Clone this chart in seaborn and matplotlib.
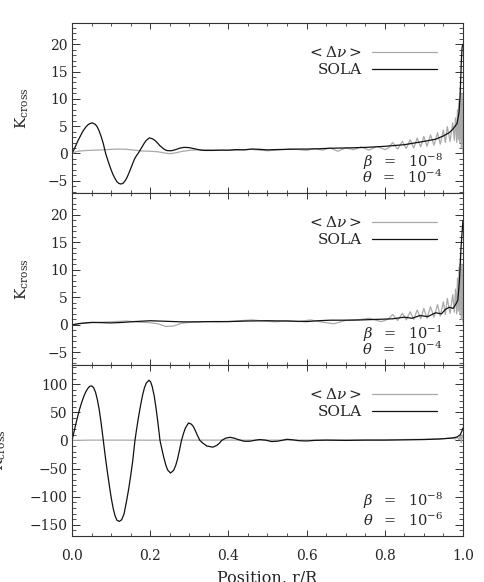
"""
Cross-talk kernels K_cross vs r/R for three (beta, theta) regularisation pairs.
"""
import matplotlib

matplotlib.use("Agg")
import matplotlib.pyplot as plt
import seaborn as sns
from matplotlib.ticker import MultipleLocator

# --- data -------------------------------------------------------------------
# panel 1: beta = 1e-8, theta = 1e-4
p1_sola_x = [0.0, 0.005, 0.01, 0.015, 0.02, 0.025, 0.03, 0.035, 0.04, 0.045,
             0.052, 0.06, 0.065, 0.07, 0.075,
             0.08, 0.086, 0.09, 0.095, 0.10, 0.105, 0.11, 0.115, 0.12, 0.125,
             0.13, 0.135, 0.14, 0.145, 0.15, 0.155, 0.16, 0.165, 0.17, 0.175,
             0.18, 0.185, 0.19, 0.198, 0.205, 0.21, 0.215, 0.22, 0.225, 0.23,
             0.235, 0.24, 0.245, 0.255, 0.265, 0.275, 0.285, 0.293, 0.30, 0.31,
             0.32, 0.33, 0.34, 0.36, 0.38, 0.40, 0.42, 0.44, 0.46, 0.48,
             0.50, 0.52, 0.55, 0.58, 0.60, 0.63, 0.66, 0.70, 0.75, 0.80,
             0.85, 0.90, 0.93, 0.95, 0.965, 0.975, 0.985, 0.99, 0.993, 0.996,
             0.998, 1.0]
p1_sola_y = [0.0, 0.7, 1.5, 2.3, 3.0, 3.7, 4.3, 4.8, 5.2, 5.45,
             5.6, 5.3, 4.8, 4.0, 3.0,
             1.8, 0.0, -0.9, -2.0, -3.0, -3.9, -4.6, -5.2, -5.5, -5.6,
             -5.5, -5.1, -4.5, -3.7, -2.8, -1.9, -1.0, -0.4, 0.1, 0.7,
             1.3, 1.9, 2.4, 2.85, 2.7, 2.5, 2.2, 1.8, 1.4, 1.1,
             0.8, 0.6, 0.5, 0.5, 0.7, 0.95, 1.1, 1.1, 1.05, 0.9,
             0.75, 0.6, 0.55, 0.55, 0.6, 0.6, 0.7, 0.65, 0.8, 0.75,
             0.65, 0.7, 0.75, 0.8, 0.8, 0.85, 0.95, 1.0, 1.1, 1.3,
             1.6, 2.2, 2.6, 3.2, 3.8, 4.5, 5.5, 7.5, 11.0, 17.0,
             19.5, 20.0]
p1_dnu_x = [0.0, 0.01, 0.02, 0.04, 0.06, 0.08, 0.10, 0.12, 0.14, 0.16,
            0.18, 0.20, 0.22, 0.235, 0.25, 0.265, 0.28, 0.30, 0.32, 0.35,
            0.38, 0.40, 0.42, 0.44, 0.46, 0.48, 0.50, 0.52, 0.54, 0.56,
            0.58, 0.60, 0.62, 0.64, 0.66, 0.68, 0.70, 0.72, 0.74, 0.76,
            0.78, 0.80, 0.81, 0.82, 0.833, 0.845, 0.855, 0.865, 0.874, 0.883,
            0.892, 0.900, 0.908, 0.917, 0.926, 0.935, 0.942, 0.950, 0.955, 0.960,
            0.967, 0.974, 0.978, 0.981, 0.984, 0.986, 0.988, 0.990, 0.992, 0.994,
            0.996, 0.998, 1.0]
p1_dnu_y = [0.0, 0.3, 0.45, 0.55, 0.6, 0.65, 0.75, 0.8, 0.75, 0.6,
            0.45, 0.4, 0.3, 0.1, -0.05, 0.1, 0.35, 0.55, 0.65, 0.65,
            0.6, 0.55, 0.6, 0.7, 0.75, 0.6, 0.5, 0.6, 0.7, 0.8,
            0.7, 0.55, 0.9, 0.6, 1.0, 0.4, 1.0, 0.7, 1.2, 0.6,
            1.3, 0.7, 1.0, 2.0, 0.8, 2.2, 0.9, 2.5, 1.0, 2.8,
            1.2, 3.1, 1.3, 3.4, 1.5, 3.8, 1.7, 4.3, 2.0, 4.9,
            2.2, 5.6, 2.4, 6.5, 2.0, 8.0, 2.5, 10.0, 2.0, 12.0,
            1.0, 11.0, 0.0]

# panel 2: beta = 1e-1, theta = 1e-4
p2_sola_x = [0.0, 0.02, 0.05, 0.08, 0.10, 0.13, 0.16, 0.20, 0.24, 0.28,
             0.32, 0.36, 0.40, 0.45, 0.50, 0.55, 0.60, 0.63, 0.66, 0.70,
             0.74, 0.78, 0.82, 0.85, 0.87, 0.89, 0.91, 0.93, 0.945, 0.955,
             0.965, 0.975, 0.982, 0.987, 0.991, 0.995, 0.998, 1.0]
p2_sola_y = [0.0, 0.25, 0.45, 0.4, 0.35, 0.45, 0.6, 0.75, 0.65, 0.55,
             0.55, 0.6, 0.6, 0.7, 0.75, 0.7, 0.6, 0.75, 0.85, 0.85,
             0.9, 1.0, 1.1, 1.4, 1.2, 1.7, 1.5, 2.2, 2.0, 2.8,
             3.2, 3.0, 3.8, 4.5, 8.0, 14.0, 17.0, 19.0]
p2_dnu_x = [0.0, 0.02, 0.05, 0.08, 0.11, 0.14, 0.17, 0.20, 0.22, 0.24,
            0.26, 0.28, 0.31, 0.34, 0.37, 0.40, 0.43, 0.46, 0.49, 0.52,
            0.55, 0.58, 0.61, 0.64, 0.67, 0.70, 0.73, 0.76, 0.79, 0.80,
            0.81, 0.82, 0.833, 0.845, 0.855, 0.865, 0.874, 0.883, 0.892, 0.900,
            0.908, 0.917, 0.926, 0.935, 0.942, 0.950, 0.955, 0.960, 0.967, 0.974,
            0.978, 0.981, 0.984, 0.986, 0.988, 0.990, 0.992, 0.994, 0.996, 0.998,
            1.0]
p2_dnu_y = [0.0, 0.25, 0.4, 0.5, 0.6, 0.7, 0.5, 0.4, 0.2, -0.3,
            -0.2, 0.3, 0.5, 0.6, 0.55, 0.6, 0.75, 0.9, 0.7, 0.55,
            0.75, 0.6, 0.9, 0.5, 0.2, 0.8, 0.9, 1.2, 0.6, 0.8,
            1.1, 1.9, 0.8, 2.1, 0.9, 2.4, 1.0, 2.7, 1.1, 3.0,
            1.2, 3.3, 1.4, 3.7, 1.6, 4.2, 1.9, 4.8, 2.1, 5.5,
            2.3, 6.5, 2.0, 8.5, 2.5, 10.5, 2.0, 13.0, 1.0, 11.0,
            0.5]

# panel 3: beta = 1e-8, theta = 1e-6
p3_sola_x = [0.0, 0.005, 0.01, 0.015, 0.02, 0.025, 0.03, 0.035, 0.04, 0.045,
             0.05, 0.055, 0.06, 0.065, 0.07, 0.075, 0.08,
             0.085, 0.09, 0.095, 0.10, 0.105, 0.11, 0.115, 0.121, 0.127, 0.133,
             0.14, 0.145, 0.15, 0.155, 0.161,
             0.165, 0.17, 0.175, 0.18, 0.185, 0.19, 0.197, 0.201, 0.205, 0.21,
             0.215, 0.22, 0.225, 0.23,
             0.235, 0.24, 0.245, 0.252, 0.26, 0.265, 0.27, 0.275, 0.28, 0.285,
             0.29, 0.298, 0.305, 0.31, 0.315, 0.32, 0.327, 0.335, 0.345, 0.36,
             0.37, 0.377, 0.383, 0.393, 0.404, 0.415, 0.425, 0.44, 0.455, 0.47,
             0.48, 0.495, 0.51, 0.525, 0.54, 0.55, 0.565, 0.58, 0.60, 0.62,
             0.65, 0.70, 0.75, 0.80, 0.85, 0.90, 0.94, 0.97, 0.985, 0.993,
             0.997, 1.0]
p3_sola_y = [0.0, 15.0, 30.0, 44.0, 57.0, 68.0, 78.0, 86.0, 92.0, 96.0,
             97.0, 94.0, 86.0, 72.0, 53.0, 28.0, 0.0,
             -28.0, -54.0, -78.0, -101.0, -120.0, -134.0, -142.0, -144.0, -141.0, -131.0,
             -106.0, -86.0, -63.0, -38.0, 0.0,
             19.0, 41.0, 61.0, 79.0, 93.0, 102.0, 107.0, 104.0, 96.0, 80.0,
             57.0, 30.0, 0.0, -16.0,
             -31.0, -44.0, -53.0, -58.0, -53.0, -45.0, -33.0, -17.0, 0.0, 12.0,
             22.0, 31.0, 29.0, 25.0, 18.0, 10.0, 0.0, -5.0, -10.0, -12.0,
             -9.0, -5.0, 0.0, 4.0, 5.5, 4.0, 1.5, -1.5, -1.5, 0.5,
             1.5, 0.5, -2.0, -1.5, 0.5, 2.0, 1.0, -0.5, -1.0, 0.0,
             0.5, 0.0, 0.5, 0.5, 1.0, 1.5, 2.5, 4.0, 6.0, 10.0,
             16.0, 22.0]
p3_dnu_x = [0.0, 0.05, 0.1, 0.2, 0.3, 0.4, 0.5, 0.6, 0.7, 0.8,
            0.9, 0.95, 0.97, 0.98, 0.985, 0.99, 0.993, 0.996, 0.998, 1.0]
p3_dnu_y = [0.0, 0.5, 0.5, 0.4, 0.5, 0.5, 0.5, 0.6, 0.8, 1.0,
            2.0, 3.0, 4.5, 2.5, 6.0, 1.0, 9.0, -4.0, 10.0, 5.0]

panel_beta = ["10^{-8}", "10^{-1}", "10^{-8}"]
panel_theta = ["10^{-4}", "10^{-4}", "10^{-6}"]
x_ticks = [0.0, 0.2, 0.4, 0.6, 0.8, 1.0]

for xs, ys in [(p1_sola_x, p1_sola_y), (p1_dnu_x, p1_dnu_y),
               (p2_sola_x, p2_sola_y), (p2_dnu_x, p2_dnu_y),
               (p3_sola_x, p3_sola_y), (p3_dnu_x, p3_dnu_y)]:
    assert len(xs) == len(ys), (len(xs), len(ys))

# --- style -------------------------------------------------------------------
sns.set_theme(style="ticks")
plt.rcParams["font.family"] = ["DejaVu Serif"]
plt.rcParams["mathtext.fontset"] = "dejavuserif"
plt.rcParams["axes.unicode_minus"] = True

GREY = "#a9a9a9"
BLACK = "#111111"

fig = plt.figure(figsize=(4.85, 5.82), dpi=100)
fig.patch.set_facecolor("white")

# axes boxes in figure fractions (left, bottom, width, height)
boxes = [
    [0.1485, 0.6684, 0.806, 0.2921],
    [0.1485, 0.3729, 0.806, 0.2955],
    [0.1485, 0.0790, 0.806, 0.2938],
]
ylims = [(-7.25, 23.9), (-7.3, 24.0), (-170.0, 134.0)]
ysteps = [(5, 1), (5, 1), (50, 10)]
label_x = [-0.105, -0.105, -0.165]
note_y = [(0.153, 0.059), (0.153, 0.059), (0.175, 0.058)]

series = [
    (p1_sola_x, p1_sola_y, p1_dnu_x, p1_dnu_y),
    (p2_sola_x, p2_sola_y, p2_dnu_x, p2_dnu_y),
    (p3_sola_x, p3_sola_y, p3_dnu_x, p3_dnu_y),
]

for i, (sx, sy, dx, dy) in enumerate(series):
    ax = fig.add_axes(boxes[i])
    ax.set_facecolor("white")
    sns.lineplot(x=dx, y=dy, ax=ax, color=GREY, lw=0.9,
                 estimator=None, sort=False, label=r"$<\Delta\nu>$")
    sns.lineplot(x=sx, y=sy, ax=ax, color=BLACK, lw=0.9,
                 estimator=None, sort=False, label="SOLA")

    ax.set_xlim(0, 1)
    ax.set_ylim(*ylims[i])
    ax.xaxis.set_major_locator(MultipleLocator(0.2))
    ax.xaxis.set_minor_locator(MultipleLocator(0.05))
    ax.yaxis.set_major_locator(MultipleLocator(ysteps[i][0]))
    ax.yaxis.set_minor_locator(MultipleLocator(ysteps[i][1]))
    ax.tick_params(axis="both", which="both", direction="in",
                   top=True, right=True, color="#333333", labelsize=10)
    ax.tick_params(axis="x", which="major", length=4.5, width=0.7, pad=9)
    ax.tick_params(axis="x", which="minor", length=2.2, width=0.6)
    ax.tick_params(axis="y", which="major", length=6, width=0.7, pad=3)
    ax.tick_params(axis="y", which="minor", length=3, width=0.6)
    for sp in ax.spines.values():
        sp.set_color("#333333")
        sp.set_linewidth(0.8)

    if i < 2:
        ax.set_xticklabels([])
        ax.set_xlabel("")
    else:
        ax.set_xticks(x_ticks)
        ax.set_xticklabels([f"{v:.1f}" for v in x_ticks])
        ax.set_xlabel("Position, r/R", fontsize=11.5, labelpad=5)

    ax.set_ylabel(r"$\mathrm{K}_{\mathrm{cross}}$", fontsize=11)
    ax.yaxis.set_label_coords(label_x[i], 0.5)

    ax.legend(loc="upper right", bbox_to_anchor=(0.933, 0.87),
              frameon=False, markerfirst=False, fontsize=11,
              handlelength=4.25, handletextpad=0.65, labelspacing=0.2,
              borderpad=0, borderaxespad=0)

    ax.text(0.949, note_y[i][0], rf"$\beta\ \ =\ \ {panel_beta[i]}$",
            transform=ax.transAxes, ha="right", va="baseline", fontsize=10.5)
    ax.text(0.949, note_y[i][1], rf"$\theta\ \ =\ \ {panel_theta[i]}$",
            transform=ax.transAxes, ha="right", va="baseline", fontsize=10.5)

fig.savefig("out.png", dpi=100, facecolor="white")
plt.close(fig)
